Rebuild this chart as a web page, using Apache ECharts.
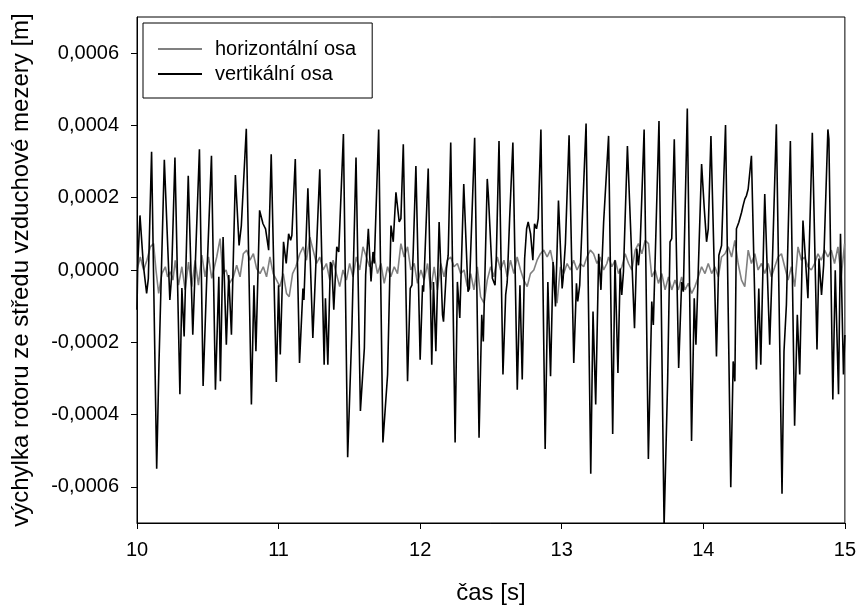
<!DOCTYPE html>
<html><head><meta charset="utf-8">
<script src="https://cdn.jsdelivr.net/npm/echarts@6/dist/echarts.min.js"></script>
<style>html,body{margin:0;padding:0;background:#fff}#c{width:859px;height:610px}</style>
</head><body><div id="c"></div>
<script>
const seriesNames = ['horizontální osa', 'vertikální osa'];
const xTicks = [10, 11, 12, 13, 14, 15];
const yTicks = [-6e-4, -4e-4, -2e-4, 0, 2e-4, 4e-4, 6e-4];

const horizontalT = [10.000,10.023,10.047,10.070,10.094,10.117,10.134,10.153,10.176,10.200,10.216,10.235,10.254,10.270,10.293,10.317,10.340,10.364,10.387,10.411,10.434,10.458,10.481,10.505,10.528,10.563,10.587,10.606,10.629,10.653,10.681,10.704,10.728,10.751,10.775,10.798,10.822,10.845,10.869,10.892,10.915,10.939,10.962,10.986,
11.009,11.033,11.056,11.075,11.099,11.122,11.150,11.174,11.197,11.221,11.244,11.268,11.291,11.315,11.338,11.362,11.385,11.408,11.432,11.455,11.479,11.502,11.526,11.549,11.573,11.596,11.620,11.643,11.676,11.699,11.723,11.746,11.770,11.793,11.817,11.840,11.864,11.887,11.911,11.934,11.958,11.981,
12.005,12.028,12.052,12.075,12.099,12.122,12.145,12.169,12.192,12.216,12.239,12.263,12.286,12.310,12.333,12.357,12.380,12.404,12.427,12.451,12.474,12.498,12.521,12.545,12.568,12.592,12.615,12.638,12.662,12.685,12.709,12.732,12.756,12.779,12.803,12.826,12.850,12.873,12.897,12.920,12.944,12.967,12.991,
13.014,13.038,13.061,13.084,13.108,13.131,13.155,13.178,13.202,13.225,13.249,13.272,13.296,13.319,13.331,13.354,13.378,13.401,13.425,13.448,13.472,13.495,13.519,13.542,13.566,13.589,13.613,13.636,13.660,13.683,13.707,13.730,13.754,13.777,13.800,13.824,13.847,13.871,13.894,13.918,13.941,13.965,13.988,
14.012,14.035,14.059,14.082,14.106,14.129,14.153,14.176,14.200,14.223,14.246,14.270,14.293,14.317,14.340,14.364,14.387,14.411,14.434,14.458,14.481,14.505,14.528,14.552,14.575,14.599,14.622,14.646,14.669,14.693,14.716,14.739,14.763,14.786,14.810,14.833,14.857,14.880,14.904,14.927,14.951,14.974,14.998];

const horizontalV = [0.00e-4,0.36e-4,0.00e-4,0.27e-4,0.64e-4,0.73e-4,0.00e-4,-0.65e-4,-0.10e-4,0.09e-4,-0.19e-4,-0.05e-4,-0.28e-4,0.27e-4,-0.42e-4,0.09e-4,-0.55e-4,0.22e-4,-0.46e-4,0.27e-4,-0.42e-4,0.41e-4,-0.19e-4,0.36e-4,-0.23e-4,0.36e-4,0.87e-4,-0.10e-4,0.00e-4,-0.37e-4,-0.19e-4,0.13e-4,-0.19e-4,0.45e-4,0.55e-4,0.27e-4,0.45e-4,0.04e-4,-0.10e-4,0.09e-4,-0.19e-4,0.36e-4,-0.10e-4,-0.28e-4,
-0.46e-4,-0.10e-4,-0.65e-4,-0.74e-4,-0.10e-4,0.09e-4,0.45e-4,0.64e-4,0.27e-4,0.91e-4,0.55e-4,0.18e-4,0.36e-4,0.00e-4,0.18e-4,-0.28e-4,0.27e-4,-0.10e-4,-0.46e-4,0.00e-4,-0.28e-4,0.18e-4,-0.19e-4,0.36e-4,0.00e-4,0.64e-4,0.36e-4,0.09e-4,0.36e-4,-0.10e-4,0.18e-4,-0.37e-4,0.09e-4,-0.19e-4,0.09e-4,-0.10e-4,0.73e-4,0.36e-4,0.64e-4,0.00e-4,0.18e-4,-0.37e-4,
0.00e-4,-0.28e-4,0.18e-4,-0.55e-4,0.09e-4,-0.55e-4,0.18e-4,-0.19e-4,0.27e-4,0.36e-4,0.09e-4,0.18e-4,-0.10e-4,0.00e-4,-0.46e-4,-0.10e-4,-0.55e-4,0.09e-4,-0.74e-4,-0.92e-4,-0.28e-4,0.09e-4,-0.19e-4,0.36e-4,0.00e-4,0.27e-4,-0.19e-4,0.27e-4,-0.10e-4,0.36e-4,0.00e-4,-0.28e-4,-0.46e-4,-0.10e-4,0.00e-4,0.27e-4,0.45e-4,0.55e-4,0.36e-4,0.55e-4,0.09e-4,-0.92e-4,0.09e-4,
-0.10e-4,0.18e-4,0.00e-4,0.27e-4,0.00e-4,0.18e-4,0.09e-4,0.36e-4,0.55e-4,0.45e-4,0.18e-4,0.36e-4,0.00e-4,0.18e-4,0.36e-4,0.09e-4,0.27e-4,-0.10e-4,0.09e-4,0.45e-4,0.18e-4,0.00e-4,0.55e-4,0.73e-4,0.45e-4,0.82e-4,0.73e-4,-0.19e-4,0.00e-4,-0.37e-4,-0.10e-4,-0.55e-4,-0.19e-4,-0.55e-4,-0.28e-4,-0.55e-4,-0.19e-4,-0.55e-4,-0.37e-4,-0.65e-4,-0.46e-4,-0.19e-4,0.09e-4,
-0.10e-4,0.18e-4,-0.10e-4,0.09e-4,-0.19e-4,0.36e-4,0.45e-4,0.64e-4,0.36e-4,0.82e-4,0.18e-4,-0.28e-4,-0.46e-4,0.55e-4,0.18e-4,0.45e-4,0.00e-4,0.18e-4,-0.10e-4,0.18e-4,-0.19e-4,0.09e-4,0.36e-4,0.45e-4,0.09e-4,-0.28e-4,0.09e-4,-0.46e-4,0.64e-4,0.27e-4,0.36e-4,0.09e-4,0.00e-4,0.18e-4,0.45e-4,0.27e-4,0.55e-4,0.36e-4,0.55e-4,0.18e-4,0.64e-4,-0.19e-4,0.73e-4];

const verticalT = [10.000,10.005,10.021,10.045,10.068,10.080,10.103,10.139,10.155,10.193,10.232,10.244,10.268,10.303,10.317,10.333,10.362,10.394,10.441,10.467,10.491,10.526,10.554,10.578,10.589,10.608,10.631,10.648,10.667,10.695,10.721,10.737,10.772,10.808,10.826,10.840,10.866,10.890,10.908,10.930,10.948,10.984,
11.000,11.012,11.035,11.054,11.071,11.085,11.094,11.118,11.148,11.172,11.179,11.207,11.242,11.291,11.322,11.331,11.348,11.366,11.376,11.390,11.411,11.425,11.458,11.488,11.517,11.547,11.578,11.606,11.615,11.634,11.653,11.667,11.676,11.707,11.737,11.770,11.794,11.810,11.829,11.841,11.852,11.864,11.881,11.911,11.930,11.942,11.951,11.970,
12.000,12.017,12.024,12.057,12.082,12.094,12.111,12.134,12.158,12.165,12.186,12.198,12.216,12.247,12.263,12.280,12.308,12.338,12.348,12.385,12.416,12.435,12.446,12.474,12.482,12.510,12.529,12.538,12.557,12.585,12.604,12.615,12.632,12.655,12.686,12.705,12.721,12.738,12.752,12.763,12.780,12.796,12.808,12.822,12.834,12.853,12.883,12.902,12.921,12.939,12.956,12.977,
13.003,13.010,13.026,13.052,13.085,13.104,13.113,13.127,13.151,13.172,13.205,13.221,13.240,13.261,13.277,13.296,13.331,13.360,13.376,13.397,13.413,13.424,13.436,13.464,13.514,13.530,13.542,13.554,13.582,13.612,13.636,13.647,13.666,13.687,13.723,13.748,13.765,13.777,13.795,13.826,13.847,13.859,13.887,13.917,13.936,13.948,13.988,
14.007,14.023,14.035,14.054,14.093,14.110,14.129,14.157,14.194,14.211,14.223,14.234,14.251,14.270,14.281,14.293,14.305,14.317,14.340,14.375,14.392,14.406,14.418,14.434,14.469,14.488,14.516,14.556,14.570,14.587,14.615,14.645,14.664,14.681,14.704,14.739,14.770,14.803,14.817,14.835,14.850,14.880,14.887,14.915,14.932,14.955,14.969,14.990,15.000];

const verticalV = [-1.1e-4,0.13e-4,1.51e-4,0.13e-4,-0.65e-4,-0.24e-4,3.27e-4,-5.5e-4,-2.62e-4,3.05e-4,-0.83e-4,-0.2e-4,3.11e-4,-3.44e-4,-0.5e-4,-1.84e-4,2.61e-4,-1.79e-4,3.34e-4,-3.21e-4,-0.42e-4,3.16e-4,-3.31e-4,-0.19e-4,-3.08e-4,0.91e-4,-2.07e-4,-0.14e-4,-1.79e-4,2.63e-4,0.68e-4,1.23e-4,3.91e-4,-3.72e-4,-0.42e-4,-2.25e-4,1.65e-4,1.28e-4,1.14e-4,0.55e-4,3.2e-4,-3.1e-4,
-0.42e-4,-2.34e-4,0.78e-4,0.18e-4,1.0e-4,0.82e-4,0.96e-4,3.07e-4,-2.57e-4,-0.51e-4,-0.83e-4,2.26e-4,-1.88e-4,2.79e-4,-2.62e-4,-0.78e-4,-2.62e-4,0.22e-4,0.13e-4,-1.1e-4,0.64e-4,0.5e-4,3.76e-4,-5.18e-4,-1.75e-4,3.11e-4,-3.9e-4,-2.16e-4,-0.14e-4,1.14e-4,-0.32e-4,0.5e-4,0.18e-4,3.89e-4,-4.77e-4,-2.89e-4,1.23e-4,0.78e-4,2.15e-4,2.2e-4,1.33e-4,1.42e-4,3.48e-4,-3.08e-4,-0.51e-4,-0.42e-4,0.5e-4,2.88e-4,
-2.48e-4,-0.42e-4,-0.6e-4,2.81e-4,-2.62e-4,-0.33e-4,-2.25e-4,1.33e-4,-1.24e-4,-1.43e-4,0.04e-4,0.41e-4,3.53e-4,-4.77e-4,-0.33e-4,-1.33e-4,2.38e-4,-0.6e-4,-0.51e-4,3.66e-4,-4.64e-4,-1.24e-4,-1.98e-4,2.52e-4,2.06e-4,-0.23e-4,-0.42e-4,0.36e-4,3.57e-4,-2.89e-4,-0.69e-4,-0.33e-4,1.42e-4,3.53e-4,-3.31e-4,-0.42e-4,-3.03e-4,0.32e-4,1.14e-4,1.33e-4,1.0e-4,0.27e-4,1.28e-4,1.14e-4,1.42e-4,3.89e-4,-4.95e-4,-0.33e-4,-2.94e-4,0.22e-4,-1.01e-4,1.92e-4,
-0.51e-4,-0.23e-4,0.73e-4,3.73e-4,-2.57e-4,-0.37e-4,-0.87e-4,-0.42e-4,1.97e-4,4.05e-4,-5.64e-4,-1.15e-4,-3.72e-4,0.45e-4,-0.55e-4,1.33e-4,3.71e-4,-4.54e-4,0.27e-4,-2.85e-4,0.04e-4,-0.69e-4,-0.05e-4,3.43e-4,-1.61e-4,0.59e-4,0.13e-4,0.68e-4,3.89e-4,-5.23e-4,-0.87e-4,-1.52e-4,1.14e-4,4.12e-4,-7.1e-4,-3.08e-4,0.78e-4,0.87e-4,3.62e-4,-2.71e-4,-0.33e-4,-0.6e-4,4.47e-4,-4.73e-4,-0.78e-4,-2.07e-4,2.93e-4,
1.69e-4,0.78e-4,1.14e-4,3.71e-4,-2.39e-4,0.41e-4,0.68e-4,4.01e-4,-6.01e-4,-2.53e-4,-3.08e-4,1.14e-4,1.32e-4,1.59e-4,1.78e-4,1.96e-4,2.06e-4,2.24e-4,3.16e-4,-2.75e-4,-0.51e-4,-2.62e-4,-0.51e-4,2.1e-4,-2.07e-4,0.22e-4,4.03e-4,-6.19e-4,-2.25e-4,-0.96e-4,3.57e-4,-4.31e-4,-1.24e-4,-2.89e-4,1.37e-4,-0.78e-4,3.8e-4,-2.2e-4,0.32e-4,-0.69e-4,0.13e-4,3.89e-4,3.62e-4,-3.58e-4,-0.01e-4,-3.44e-4,1.0e-4,-2.89e-4,-1.8e-4];

function pairs(t, v) { return t.map((x, i) => [x, v[i]]); }
function fmtY(v) {
  const s = Math.abs(v).toFixed(4).replace('.', ',');
  return (v < -1e-12 ? '-' : '') + s;
}

const chart = echarts.init(document.getElementById('c'), null, { renderer: 'canvas' });
chart.setOption({
  animation: false,
  backgroundColor: '#fff',
  textStyle: { fontFamily: '"Liberation Sans", Arial, sans-serif' },
  grid: { left: 137, right: 13, top: 17, bottom: 84, show: true, borderColor: '#000', borderWidth: 1 },
  legend: {
    orient: 'vertical', left: 143, top: 23,
    padding: [16, 16, 14, 15], itemGap: 5, itemWidth: 44, itemHeight: 2,
    borderColor: '#000', borderWidth: 1, backgroundColor: '#fff',
    textStyle: { fontSize: 20, color: '#000', padding: [0, 0, 0, 8] },
    data: [{ name: seriesNames[0], icon: 'rect' }, { name: seriesNames[1], icon: 'rect' }]
  },
  xAxis: {
    type: 'value', min: xTicks[0], max: xTicks[xTicks.length - 1], interval: 1,
    name: 'čas [s]', nameLocation: 'middle', nameGap: 58,
    nameTextStyle: { fontSize: 24, color: '#000' },
    axisLine: { show: true, onZero: false, lineStyle: { color: '#000', width: 1 } },
    axisTick: { show: true, length: 6, customValues: xTicks, lineStyle: { color: '#000' } },
    axisLabel: { fontSize: 20, color: '#000', margin: 17, customValues: xTicks },
    splitLine: { show: false }
  },
  yAxis: {
    type: 'value', min: -7e-4, max: 7e-4,
    name: 'výchylka rotoru ze středu vzduchové mezery [m]', nameLocation: 'middle', nameGap: 104,
    nameTextStyle: { fontSize: 24, color: '#000' },
    axisLine: { show: true, onZero: false, lineStyle: { color: '#000', width: 1 } },
    axisTick: { show: true, length: 6, customValues: yTicks, lineStyle: { color: '#000' } },
    axisLabel: { fontSize: 20, color: '#000', margin: 18, customValues: yTicks, formatter: fmtY },
    splitLine: { show: false }
  },
  series: [
    { name: seriesNames[0], type: 'line', data: pairs(horizontalT, horizontalV), showSymbol: false, symbol: 'none',
      lineStyle: { color: '#808080', width: 1.6 }, itemStyle: { color: '#808080' }, z: 2 },
    { name: seriesNames[1], type: 'line', data: pairs(verticalT, verticalV), showSymbol: false, symbol: 'none',
      lineStyle: { color: '#000', width: 1.6 }, itemStyle: { color: '#000' }, z: 3 }
  ]
});
</script>
</body></html>
